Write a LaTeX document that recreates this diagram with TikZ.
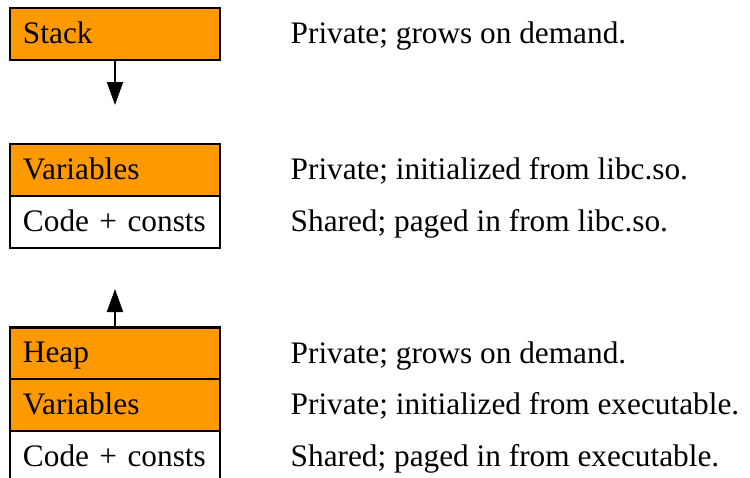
\documentclass[tikz,border=0pt]{standalone}
\usepackage{fontspec}
\setmainfont{Liberation Serif}
\usetikzlibrary{arrows.meta}
\definecolor{boxorange}{HTML}{FF9900}
\begin{document}
\begin{tikzpicture}[x=1pt,y=-1pt,
  seg/.style={draw=black, line width=2.5pt, minimum width=210pt, minimum height=52pt,
    text width=184pt, inner xsep=13pt, inner ysep=0pt, align=left,
    text height=22pt, text depth=4pt, font=\fontsize{31.3}{36}\selectfont},
  priv/.style={seg, fill=boxorange},
  shrd/.style={seg, fill=white},
  desc/.style={anchor=base west, inner sep=0pt, font=\fontsize{31.3}{36}\selectfont},
  growarrow/.style={line width=2pt, -{Triangle[length=23pt,width=16pt]}}]
\useasboundingbox (0,0) rectangle (750,477);
% stack
\node[priv] (stack) at (115,34) {Stack};
\coordinate (stacktip) at (115,105);
\draw[growarrow] (stack.south) -- (stacktip);
% shared library
\node[priv] (libvar) at (115,170) {Variables};
\node[shrd] (libcode) at (115,222) {Code + consts};
% executable
\node[priv] (heap) at (115,353.5) {Heap};
\node[priv] (exevar) at (115,405) {Variables};
\node[shrd] (execode) at (115,457) {Code + consts};
\coordinate (heaptip) at (115,289);
\draw[growarrow] (heap.north) -- (heaptip);
% descriptions
\node[desc] (d1) at (290.5,43) {Private; grows on demand.};
\node[desc] (d2) at (290.5,179) {Private; initialized from libc.so.};
\node[desc] (d3) at (290.5,231) {Shared; paged in from libc.so.};
\node[desc] (d4) at (290.5,363) {Private; grows on demand.};
\node[desc] (d5) at (290.5,414) {Private; initialized from executable.};
\node[desc] (d6) at (290.5,466) {Shared; paged in from executable.};
\end{tikzpicture}
\end{document}
